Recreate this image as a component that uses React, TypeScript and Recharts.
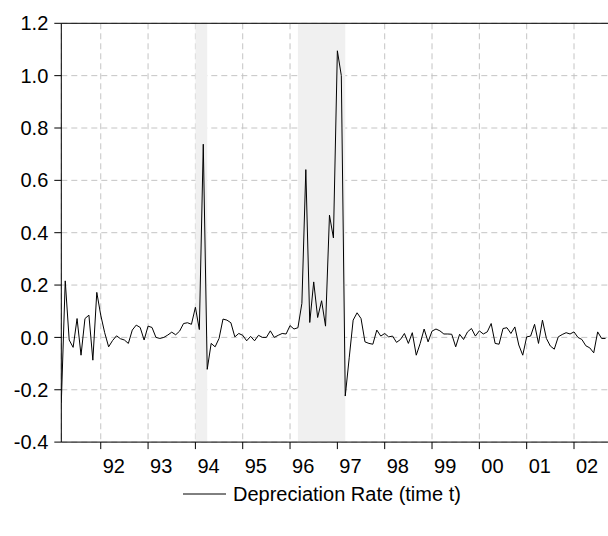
import React from 'react';
import {
  LineChart,
  Line,
  XAxis,
  YAxis,
  CartesianGrid,
  ReferenceArea,
  ReferenceLine,
} from 'recharts';

// monthly observations, 1991M03 .. 2002M09
const firstYear = 1991;
const firstMonth = 3;

const depreciation = [
  -0.25, 0.216, -0.01, -0.038, 0.072, -0.068, 0.072, 0.085, -0.087, 0.172,
  0.085, 0.018, -0.036, -0.012, 0.006, -0.005, -0.01, -0.023, 0.028, 0.047,
  0.038, -0.01, 0.043, 0.038, 0.0, -0.004, 0.0, 0.009, 0.02, 0.01,
  0.024, 0.053, 0.056, 0.05, 0.115, 0.03, 0.738, -0.122, -0.023, -0.036,
  -0.004, 0.07, 0.066, 0.056, 0.002, 0.015, 0.008, -0.013, 0.004, -0.013,
  0.008, 0.0, 0.0, 0.025, 0.0, 0.008, 0.015, 0.013, 0.045, 0.032,
  0.037, 0.13, 0.641, 0.057, 0.212, 0.076, 0.14, 0.043, 0.467, 0.38,
  1.095, 1.0, -0.224, -0.078, 0.066, 0.094, 0.072, -0.017, -0.023, -0.026,
  0.028, 0.005, 0.015, 0.002, 0.005, -0.019, -0.008, 0.015, -0.023, 0.018,
  -0.068, -0.023, 0.032, -0.017, 0.024, 0.032, 0.025, 0.013, 0.013, 0.012,
  -0.036, 0.012, -0.008, 0.021, 0.034, 0.005, 0.025, 0.013, 0.021, 0.053,
  -0.023, -0.026, 0.034, 0.037, 0.015, 0.04, -0.029, -0.068, 0.002, 0.005,
  0.05, -0.023, 0.066, -0.004, -0.033, -0.045, 0.002, 0.011, 0.018, 0.013,
  0.021, 0.0, -0.008, -0.032, -0.04, -0.059, 0.021, -0.004, -0.004,
];

const yearLabels = ['92', '93', '94', '95', '96', '97', '98', '99', '00', '01', '02'];
const yTicks = [-0.4, -0.2, 0.0, 0.2, 0.4, 0.6, 0.8, 1.0, 1.2];

// shaded periods (start / end month)
const shadeStart = ['1994-01', '1996-03'];
const shadeEnd = ['1994-04', '1997-03'];

const monthIndex = (ym: string) => {
  const [y, m] = ym.split('-').map(Number);
  return (y - firstYear) * 12 + (m - firstMonth);
};

const data = depreciation.map((v, i) => ({ t: i, rate: v }));
const yearTicks = yearLabels.map((_, k) => monthIndex(`${1992 + k}-01`));

const FONT = '"Liberation Sans", Arial, sans-serif';
const FS = 20;

const YearTick = (props: any) => {
  const { x, y, payload } = props;
  const idx = yearTicks.indexOf(payload.value);
  return (
    <text x={x + 2} y={y} dy="0.71em" textAnchor="start" fill="#000" fontSize={FS} fontFamily={FONT}>
      {yearLabels[idx]}
    </text>
  );
};

export default function App() {
  return (
    <div style={{ position: 'relative', width: 608, height: 536, overflow: 'hidden', background: '#fff' }}>
      <style>{'body{margin:0;overflow:hidden}'}</style>
      <LineChart
        width={620}
        height={536}
        data={data}
        margin={{ top: 23.3, right: 10.5, bottom: 63.9, left: 0 }}
      >
        {shadeStart.map((s, k) => (
          <ReferenceArea
            key={s}
            x1={monthIndex(s)}
            x2={monthIndex(shadeEnd[k])}
            y1={-0.4}
            y2={1.2}
            fill="#f0f0f0"
            fillOpacity={1}
            stroke="none"
            ifOverflow="hidden"
          />
        ))}
        <CartesianGrid stroke="#c4c4c4" strokeDasharray="6 4" />
        <XAxis
          type="number"
          dataKey="t"
          domain={[0, 139]}
          ticks={yearTicks}
          allowDataOverflow
          height={30}
          tick={<YearTick />}
          tickSize={7}
          tickMargin={10}
          axisLine={{ stroke: '#000' }}
          tickLine={{ stroke: '#000' }}
        />
        <YAxis
          type="number"
          domain={[-0.4, 1.2]}
          ticks={yTicks}
          allowDataOverflow
          width={61.3}
          tickSize={7}
          tickMargin={6}
          tickFormatter={(v: number) => v.toFixed(1)}
          tick={{ fill: '#000', fontSize: FS, fontFamily: FONT }}
          axisLine={{ stroke: '#000' }}
          tickLine={{ stroke: '#000' }}
        />
        <ReferenceLine y={1.2} stroke="#000" />
        <Line
          type="linear"
          dataKey="rate"
          stroke="#000"
          strokeWidth={1}
          dot={false}
          isAnimationActive={false}
        />
      </LineChart>
      <svg
        width={608}
        height={536}
        style={{ position: 'absolute', left: 0, top: 0, pointerEvents: 'none' }}
      >
        <line x1={183} x2={226} y1={494} y2={494} stroke="#000" strokeWidth={1} />
        <text x={233} y={494} dy="0.35em" fontSize={FS} fontFamily={FONT} fill="#000">
          Depreciation Rate (time t)
        </text>
      </svg>
    </div>
  );
}
